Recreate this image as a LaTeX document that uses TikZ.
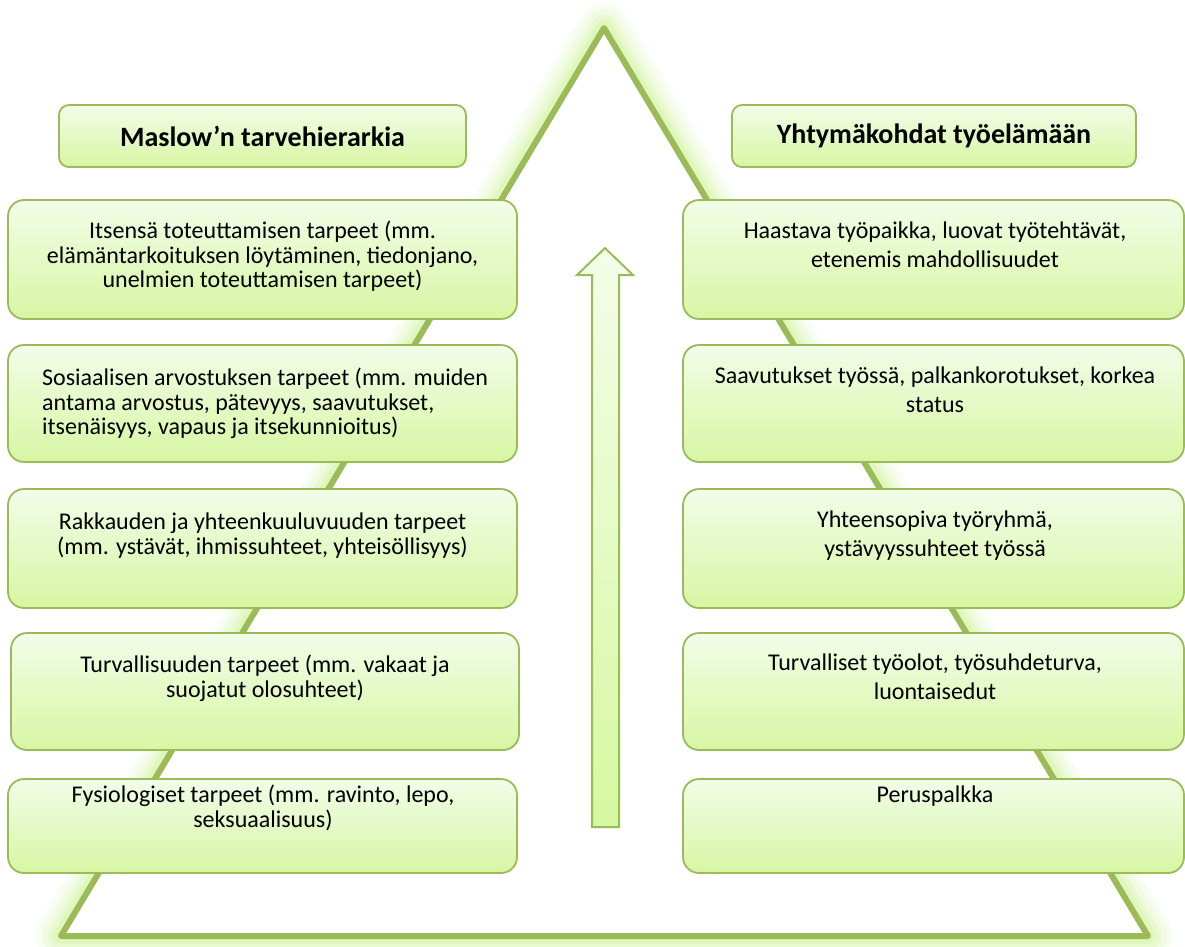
\documentclass[tikz,border=0pt]{standalone}
\usepackage{fontspec}
\setmainfont{Carlito}
\definecolor{ogreen}{HTML}{9BBB59}
\definecolor{boxtop}{HTML}{F2FDE8}
\definecolor{boxbot}{HTML}{D7F6A3}
\definecolor{glowc}{HTML}{C9F08E}
\definecolor{arrtop}{HTML}{F4FDE9}
\definecolor{arrbot}{HTML}{D6F8A0}
\newcommand\fl{\rule{0pt}{20pt}}
\begin{document}
\begin{tikzpicture}[x=1pt,y=-1pt,
  box/.style={draw=ogreen, line width=1.8pt, rounded corners=16pt, top color=boxtop, bottom color=boxbot, inner sep=0pt},
  hdr/.style={box, rounded corners=10pt, font=\fontsize{28}{32}\selectfont\bfseries},
  txtl/.style={align=center, inner sep=0pt, anchor=north, font=\fontsize{24}{24.5}\selectfont},
  txtr/.style={align=center, inner sep=0pt, anchor=north, font=\fontsize{24}{28.5}\selectfont},
  triline/.style={draw=ogreen, line width=6pt, line join=round}]
\useasboundingbox (0,0) rectangle (1185,946);
% triangle with glow
\coordinate (apex) at (604,28);
\coordinate (bl) at (61,936);
\coordinate (br) at (1148,936);
\foreach \w/\o in {50/0.12, 38/0.16, 26/0.22, 16/0.3}
  \draw[glowc, opacity=\o, line width=\w pt, line join=round] (apex) -- (bl) -- (br) -- cycle;
\fill[white] (apex) -- (bl) -- (br) -- cycle;
\draw[triline] (apex) -- (bl) -- (br) -- cycle;
% central arrow
\path[draw=ogreen, line width=2pt, top color=arrtop, bottom color=arrbot]
  (592,827) -- (592,275) -- (577,275) -- (605,248) -- (633,275) -- (619,275) -- (619,827) -- cycle;
% headers
\node[hdr, minimum width=407pt, minimum height=62pt] (H1) at (262.5,136) {Maslow’n tarvehierarkia};
\node[hdr, minimum width=404pt, minimum height=62pt] (H2) at (934,136) {Yhtymäkohdat työelämään};
% left boxes
\node[box, minimum width=509pt, minimum height=119pt] (L1) at (262.5,259.5) {};
\node[box, minimum width=509pt, minimum height=117pt] (L2) at (262.5,403.5) {};
\node[box, minimum width=509pt, minimum height=119pt] (L3) at (262.5,548.5) {};
\node[box, minimum width=508pt, minimum height=117pt] (L4) at (265,691.5) {};
\node[box, minimum width=509pt, minimum height=94pt] (L5) at (262.5,826) {};
% right boxes
\node[box, minimum width=501pt, minimum height=119pt] (R1) at (933.5,259.5) {};
\node[box, minimum width=501pt, minimum height=117pt] (R2) at (933.5,403.5) {};
\node[box, minimum width=501pt, minimum height=119pt] (R3) at (933.5,548.5) {};
\node[box, minimum width=501pt, minimum height=117pt] (R4) at (933.5,691.5) {};
\node[box, minimum width=501pt, minimum height=94pt] (R5) at (933.5,826) {};
% texts
\node[txtl] (tL1) at (262.5,218.6) {\fl Itsensä toteuttamisen tarpeet (mm.\\elämäntarkoituksen löytäminen, tiedonjano,\\unelmien toteuttamisen tarpeet)};
\node[txtl, align=left, anchor=north west] (tL2) at (42,365.6) {\fl Sosiaalisen arvostuksen tarpeet (mm. muiden\\antama arvostus, pätevyys, saavutukset,\\itsenäisyys, vapaus ja itsekunnioitus)};
\node[txtl] (tL3) at (262.5,509.6) {\fl Rakkauden ja yhteenkuuluvuuden tarpeet\\(mm. ystävät, ihmissuhteet, yhteisöllisyys)};
\node[txtl] (tL4) at (265,652.6) {\fl Turvallisuuden tarpeet (mm. vakaat ja\\suojatut olosuhteet)};
\node[txtl] (tL5) at (263,782.6) {\fl Fysiologiset tarpeet (mm. ravinto, lepo,\\seksuaalisuus)};
\node[txtr] (tR1) at (935,218.6) {\fl Haastava työpaikka, luovat työtehtävät,\\etenemis mahdollisuudet};
\node[txtr] (tR2) at (935,363.6) {\fl Saavutukset työssä, palkankorotukset, korkea\\status};
\node[txtr] (tR3) at (935,507.6) {\fl Yhteensopiva työryhmä,\\ystävyyssuhteet työssä};
\node[txtr] (tR4) at (935,650.6) {\fl Turvalliset työolot, työsuhdeturva,\\luontaisedut};
\node[txtr] (tR5) at (935,782.6) {\fl Peruspalkka};
\end{tikzpicture}
\end{document}
